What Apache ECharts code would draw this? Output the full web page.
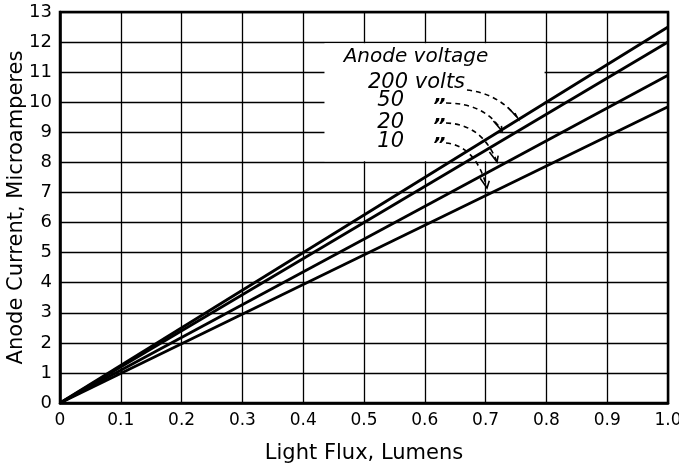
<!DOCTYPE html>
<html>
<head>
<meta charset="utf-8">
<script src="https://cdn.jsdelivr.net/npm/echarts@6/dist/echarts.min.js"></script>
<style>
  html, body { margin: 0; padding: 0; background: #fff; }
  #chart { width: 679px; height: 467px; }
</style>
</head>
<body>
<div id="chart"></div>
<script>
// 数据：光通量（流明）与阳极电流（微安），四条直线都从原点出发
var flux = [0, 1.0];
var volt200 = [0, 12.5];
var volt50 = [0, 12.0];
var volt20 = [0, 10.9];
var volt10 = [0, 9.85];
var seriesNames = ['200 volts', '50 volts', '20 volts', '10 volts'];
var seriesValues = [volt200, volt50, volt20, volt10];
var legendNumbers = ['50', '20', '10'];

var FONT = '"DejaVu Sans", sans-serif';

(function () {
    var dom = document.getElementById('chart');
    var myChart = echarts.init(dom);

    var series = seriesValues.map(function (vals, i) {
        return {
            name: seriesNames[i],
            type: 'line',
            data: flux.map(function (x, j) { return [x, vals[j]]; }),
            symbol: 'none',
            z: 3,
            lineStyle: { color: '#000', width: 2.8 }
        };
    });

    var option = {
        backgroundColor: '#fff',
        animation: false,
        grid: {
            left: 60,
            right: 11,
            top: 12,
            bottom: 64,
            outerBoundsMode: 'none',
            show: true,
            borderColor: '#000',
            borderWidth: 2.5
        },
        xAxis: {
            type: 'value',
            min: 0,
            max: 1,
            interval: 0.1,
            name: 'Light Flux, Lumens',
            nameLocation: 'middle',
            nameGap: 40,
            nameMoveOverlap: false,
            nameTextStyle: { color: '#000', fontSize: 21, fontFamily: FONT },
            axisLine: { lineStyle: { color: '#000', width: 2.5 } },
            axisTick: { show: false },
            axisLabel: {
                color: '#000',
                fontSize: 17,
                fontFamily: FONT,
                margin: 9,
                formatter: function (v) { return v === 0 ? '0' : v.toFixed(1); }
            },
            splitLine: { show: true, lineStyle: { color: '#000', width: 1.3 } }
        },
        yAxis: {
            type: 'value',
            min: 0,
            max: 13,
            interval: 1,
            name: 'Anode Current, Microamperes',
            nameLocation: 'middle',
            nameGap: 33,
            nameMoveOverlap: false,
            nameTextStyle: { color: '#000', fontSize: 21, fontFamily: FONT },
            axisLine: { lineStyle: { color: '#000', width: 2.5 } },
            axisTick: { show: false },
            axisLabel: { color: '#000', fontSize: 18, fontFamily: FONT, margin: 8 },
            splitLine: { show: true, lineStyle: { color: '#000', width: 1.3 } }
        },
        series: series
    };

    myChart.setOption(option);

    // 图例说明框（数据坐标）
    function px(p) { return myChart.convertToPixel({ gridIndex: 0 }, p); }

    var boxPts = [[0.435, 11.96], [0.797, 11.96], [0.797, 9.04], [0.72, 9.04], [0.72, 8.04], [0.435, 8.04]];
    var arrows = [
        { s: [0.6694, 10.405], c: [0.7188, 10.306], e: [0.7516, 9.508] },
        { s: [0.6349, 9.973], c: [0.6990, 9.973], e: [0.7270, 9.043] },
        { s: [0.6349, 9.309], c: [0.6941, 9.275], e: [0.7188, 8.012] },
        { s: [0.6349, 8.644], c: [0.6842, 8.544], e: [0.7023, 7.148] }
    ];
    var numberY = [10.04, 9.34, 8.68];
    var dittoY = [9.857, 9.192, 8.560];

    var graphics = [];
    graphics.push({
        type: 'polygon',
        z: 1,
        shape: { points: boxPts.map(px) },
        style: { fill: '#fff', stroke: null }
    });

    var italic = { fill: '#000', fontSize: 20, fontStyle: 'italic', fontFamily: FONT };
    var p0 = px([0.5855, 11.5]);
    graphics.push({ type: 'text', z: 10, x: p0[0], y: p0[1],
        style: Object.assign({ text: 'Anode voltage', textAlign: 'center', textVerticalAlign: 'middle' }, italic) });
    var p1 = px([0.5066, 10.67]);
    graphics.push({ type: 'text', z: 10, x: p1[0], y: p1[1],
        style: Object.assign({ text: '200 volts', textAlign: 'left', textVerticalAlign: 'middle' }, italic, { fontSize: 21 }) });
    legendNumbers.forEach(function (n, i) {
        var p = px([0.5658, numberY[i]]);
        graphics.push({ type: 'text', z: 10, x: p[0], y: p[1],
            style: Object.assign({ text: n, textAlign: 'right', textVerticalAlign: 'middle' }, italic, { fontSize: 21 }) });
        var d = px([0.6234, dittoY[i]]);
        graphics.push({ type: 'text', z: 10, x: d[0], y: d[1],
            style: Object.assign({ text: '\u201D', textAlign: 'center', textVerticalAlign: 'middle' }, italic, { fontWeight: 'bold' }) });
    });

    arrows.forEach(function (a) {
        var s = px(a.s), c = px(a.c), e = px(a.e);
        graphics.push({
            type: 'bezierCurve', z: 10,
            shape: { x1: s[0], y1: s[1], x2: e[0], y2: e[1], cpx1: c[0], cpy1: c[1] },
            style: { stroke: '#000', lineWidth: 1.6, lineDash: [5, 4], fill: null }
        });
        // 箭头
        var dx = e[0] - c[0], dy = e[1] - c[1];
        var len = Math.sqrt(dx * dx + dy * dy);
        dx /= len; dy /= len;
        var ang = 28 * Math.PI / 180, L = 10;
        var pts = [];
        [ang, -ang].forEach(function (t) {
            var bx = -dx * Math.cos(t) + dy * Math.sin(t);
            var by = dx * Math.sin(t) - dy * Math.cos(t);
            pts.push([e[0] + bx * L, e[1] + by * L]);
        });
        graphics.push({
            type: 'polyline', z: 10,
            shape: { points: [pts[0], e, pts[1]] },
            style: { stroke: '#000', lineWidth: 1.6, fill: null }
        });
    });

    myChart.setOption({ graphic: graphics });

    window.addEventListener('resize', function () {
        myChart.resize();
    });
})();
</script>
</body>
</html>
